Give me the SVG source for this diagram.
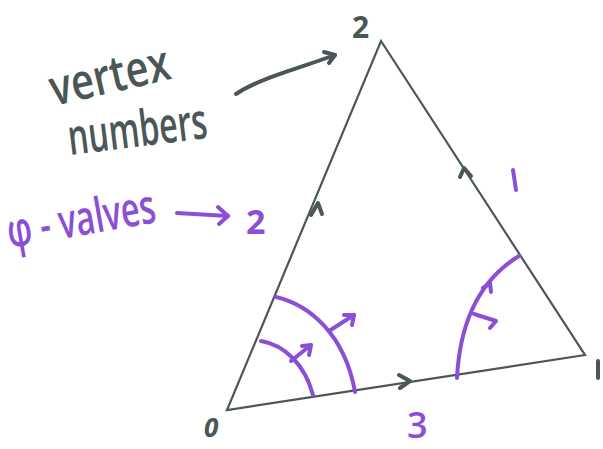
<svg xmlns="http://www.w3.org/2000/svg" width="603" height="449" viewBox="0 0 603 449">
<style>
.edge{fill:none;stroke:#4b5757;stroke-width:2.2;stroke-linecap:round}
.dk{fill:none;stroke:#4b5757;stroke-width:4;stroke-linecap:round;stroke-linejoin:round}
.pp{fill:none;stroke:#8b4fd6;stroke-width:4;stroke-linecap:round;stroke-linejoin:round}
.td{fill:#4b5757;font-family:"Open Sans","DejaVu Sans",sans-serif}
.tp{fill:#8b4fd6;font-family:"Open Sans","DejaVu Sans",sans-serif}
</style>
<rect width="603" height="449" fill="#ffffff"/>
<g id="connectors">
<path class="edge" d="M227,410 L381,41 L585,355 Z"/>
<path class="dk" d="M311,215 L318,203 L322,214"/>
<path class="dk" d="M460,177 L464,168 L471,176"/>
<path class="dk" d="M399,375 L410,381 L400,388"/>
<path class="dk" d="M236,94 C260,78 300,68 335,55"/>
<path class="dk" d="M324,52 L335,55 L329,63"/>
<path class="pp" d="M177,213 L228,216"/>
<path class="pp" d="M218,207 L228,216 L219,224"/>
</g>
<g id="arcs">
<path class="pp" d="M261,341 C285,345 305,365 313,395"/>
<path class="pp" d="M291,361 L311,345"/>
<path class="pp" d="M302,346 L311,345 L309,355"/>
<path class="pp" d="M276,297 C310,305 345,335 355,392"/>
<path class="pp" d="M329,331 L354,315"/>
<path class="pp" d="M344,315 L354,315 L352,325"/>
<path class="pp" d="M519,256 C480,280 460,320 457,378"/>
<path class="pp" d="M483,288 L490,283 L491,292"/>
<path class="pp" d="M474,314 L496,321 L490,328"/>
</g>
<g id="n2"><text class="td" x="352" y="38" font-size="30" font-weight="bold">2</text></g>
<g id="n1"><path class="dk" d="M598,361 L598,378" stroke-width="6"/></g>
<g id="n0"><text class="td" x="204" y="437" font-size="26" font-weight="bold" font-style="italic">0</text></g>
<g id="vertex-label">
<text class="td" x="54" y="106" font-size="50" font-weight="600" textLength="122" lengthAdjust="spacingAndGlyphs" transform="rotate(-13 54 106)">vertex</text>
<text class="td" x="70" y="155" font-size="50" font-weight="600" textLength="140" lengthAdjust="spacingAndGlyphs" transform="rotate(-7 70 155)">numbers</text>
</g>
<g id="phi-label">
<text class="tp" x="10" y="248" font-size="48" font-weight="600" textLength="150" lengthAdjust="spacingAndGlyphs" transform="rotate(-10 10 248)">φ - valves</text>
<text class="tp" x="246" y="234" font-size="34" font-weight="bold">2</text>
</g>
<g id="phi1"><path class="pp" d="M513,170 L516,190"/></g>
<g id="phi3"><text class="tp" x="407" y="438" font-size="36" font-weight="600">3</text></g>
</svg>
